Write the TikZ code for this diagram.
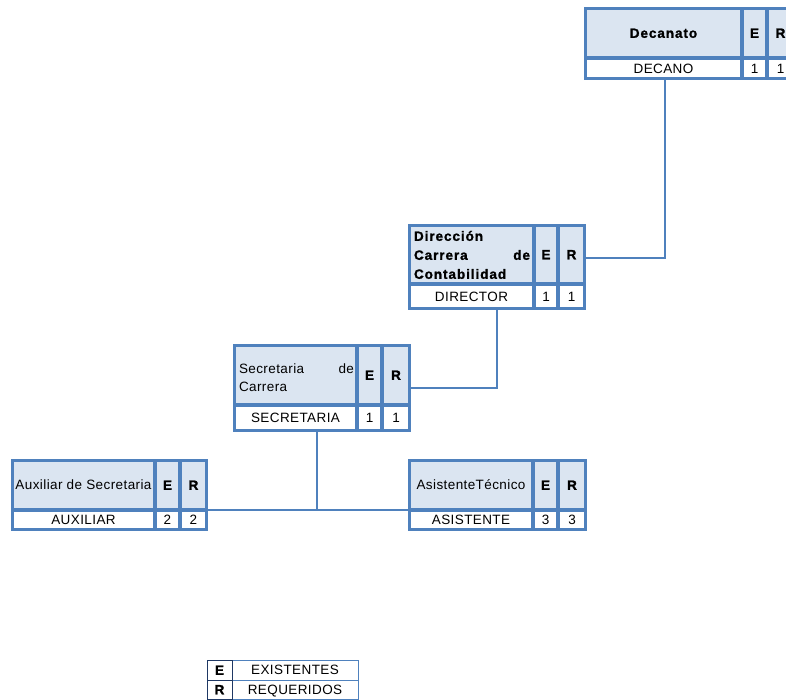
\documentclass[tikz,border=0pt]{standalone}
\usepackage{fontspec}
\setmainfont{Liberation Sans}[LetterSpace=3]
\newfontfamily\hdrfont{Liberation Sans}[UprightFont={* Bold}, LetterSpace=7, FakeBold=1.3]
\definecolor{orgblue}{RGB}{79,129,189}
\definecolor{orgfill}{RGB}{219,229,241}
\definecolor{legdark}{RGB}{31,56,100}
\newcommand\tabsize{\fontsize{13.5}{16}\selectfont}

% one cell of an org table: name, x0, y0, x1, y1, style, text
\newcommand\cellbox[7]{%
  \node[#6, minimum width={#4-#2-2.4}, minimum height={#5-#3-2.4}]
    (#1) at ({(#2+#4)/2},{(#3+#5)/2}) {#7};}
% outer frame of an org table: name, x0, y0, x1, y1
\newcommand\tableframe[5]{%
  \node[tframe, minimum width={#4-#2}, minimum height={#5-#3}]
    (#1) at ({(#2+#4)/2},{(#3+#5)/2}) {};}

\tikzset{
  tframe/.style={draw=orgblue, line width=1.5pt, fill=white, inner sep=0pt, outer sep=0pt},
  basecell/.style={draw=orgblue, line width=1.5pt, inner sep=0pt, outer sep=0pt,
    text height=9.6pt, text depth=0pt},
  hcell/.style={basecell, fill=orgfill, font=\tabsize\hdrfont},
  hcellr/.style={basecell, fill=orgfill, font=\tabsize\rmfamily},
  bcell/.style={basecell, fill=white, font=\tabsize\rmfamily},
  htext/.style={inner sep=0pt, outer sep=0pt, text height=9.6pt, text depth=0pt},
  hbold/.style={htext, font=\tabsize\hdrfont},
  hplain/.style={htext, font=\tabsize\rmfamily},
  link/.style={draw=orgblue, line width=1.1pt},
  lgkey/.style={draw=legdark, line width=1pt, fill=white, inner sep=0pt, outer sep=0pt,
    text height=9.6pt, text depth=0pt, font=\tabsize\hdrfont},
  lgtext/.style={draw=orgblue, line width=0.9pt, fill=white, inner sep=0pt, outer sep=0pt,
    text height=9.6pt, text depth=0pt, font=\tabsize\rmfamily},
}

\begin{document}
\begin{tikzpicture}[x=1pt,y=-1pt]
\path[use as bounding box] (0,0) rectangle (786,700);
\clip (0,0) rectangle (786,700);
\fill[white] (0,0) rectangle (786,700);

% Decanato
\tableframe{dec}{585}{8}{794}{79}
\cellbox{dec-h}{585}{8}{742}{58}{hcell}{Decanato}
\cellbox{dec-e}{742}{8}{767}{58}{hcell}{E}
\cellbox{dec-r}{767}{8}{794}{58}{hcell}{R}
\cellbox{dec-b}{585}{58}{742}{79}{bcell}{DECANO}
\cellbox{dec-be}{742}{58}{767}{79}{bcell}{1}
\cellbox{dec-br}{767}{58}{794}{79}{bcell}{1}

% Direccion Carrera de Contabilidad
\tableframe{dir}{409}{225}{585}{309}
\cellbox{dir-h}{409}{225}{534}{284}{hcell}{}
\cellbox{dir-e}{534}{225}{558}{284}{hcell}{E}
\cellbox{dir-r}{558}{225}{585}{284}{hcell}{R}
\cellbox{dir-b}{409}{284}{534}{309}{bcell}{DIRECTOR}
\cellbox{dir-be}{534}{284}{558}{309}{bcell}{1}
\cellbox{dir-br}{558}{284}{585}{309}{bcell}{1}
\node[hbold, anchor=west] (dir-t1) at (414,236) {Dirección};
\node[hbold, anchor=west] (dir-t2) at (414,255) {Carrera};
\node[hbold, anchor=east] (dir-t2b) at (530,255) {de};
\node[hbold, anchor=west] (dir-t3) at (414,274) {Contabilidad};

% Secretaria de Carrera
\tableframe{sec}{234}{345}{410}{431}
\cellbox{sec-h}{234}{345}{357}{405}{hcell}{}
\cellbox{sec-e}{357}{345}{382}{405}{hcell}{E}
\cellbox{sec-r}{382}{345}{410}{405}{hcell}{R}
\cellbox{sec-b}{234}{405}{357}{431}{bcell}{SECRETARIA}
\cellbox{sec-be}{357}{405}{382}{431}{bcell}{1}
\cellbox{sec-br}{382}{405}{410}{431}{bcell}{1}
\node[hplain, anchor=west] (sec-t1) at (239,369) {Secretaria};
\node[hplain, anchor=east] (sec-t1b) at (354,369) {de};
\node[hplain, anchor=west] (sec-t2) at (239,387) {Carrera};

% Auxiliar de Secretaria
\tableframe{aux}{12}{460}{207}{530}
\cellbox{aux-h}{12}{460}{155}{510}{hcellr}{Auxiliar de Secretaria}
\cellbox{aux-e}{155}{460}{180}{510}{hcell}{E}
\cellbox{aux-r}{180}{460}{207}{510}{hcell}{R}
\cellbox{aux-b}{12}{510}{155}{530}{bcell}{AUXILIAR}
\cellbox{aux-be}{155}{510}{180}{530}{bcell}{2}
\cellbox{aux-br}{180}{510}{207}{530}{bcell}{2}

% Asistente Tecnico
\tableframe{asi}{409}{460}{586}{530}
\cellbox{asi-h}{409}{460}{533}{510}{hcellr}{AsistenteTécnico}
\cellbox{asi-e}{533}{460}{558}{510}{hcell}{E}
\cellbox{asi-r}{558}{460}{586}{510}{hcell}{R}
\cellbox{asi-b}{409}{510}{533}{530}{bcell}{ASISTENTE}
\cellbox{asi-be}{533}{510}{558}{530}{bcell}{3}
\cellbox{asi-br}{558}{510}{586}{530}{bcell}{3}

% connectors
\coordinate (bus) at (317,510);
\draw[link] ([xshift=1.5pt]dec-b.south) |- ([yshift=9pt]dir.east);
\draw[link] (dir.south) |- (sec.east);
\draw[link] (sec.south -| bus) -- (bus);
\draw[link] (aux.east |- bus) -- (asi.west |- bus);

% legend
\node[lgtext, minimum width=126, minimum height=20] (leg-et) at (295,670) {EXISTENTES};
\node[lgtext, minimum width=126, minimum height=19] (leg-rt) at (295,689.5) {REQUERIDOS};
\node[lgkey, minimum width=25, minimum height=20] (leg-e) at (219.5,670) {E};
\node[lgkey, minimum width=25, minimum height=19] (leg-r) at (219.5,689.5) {R};
\end{tikzpicture}
\end{document}
